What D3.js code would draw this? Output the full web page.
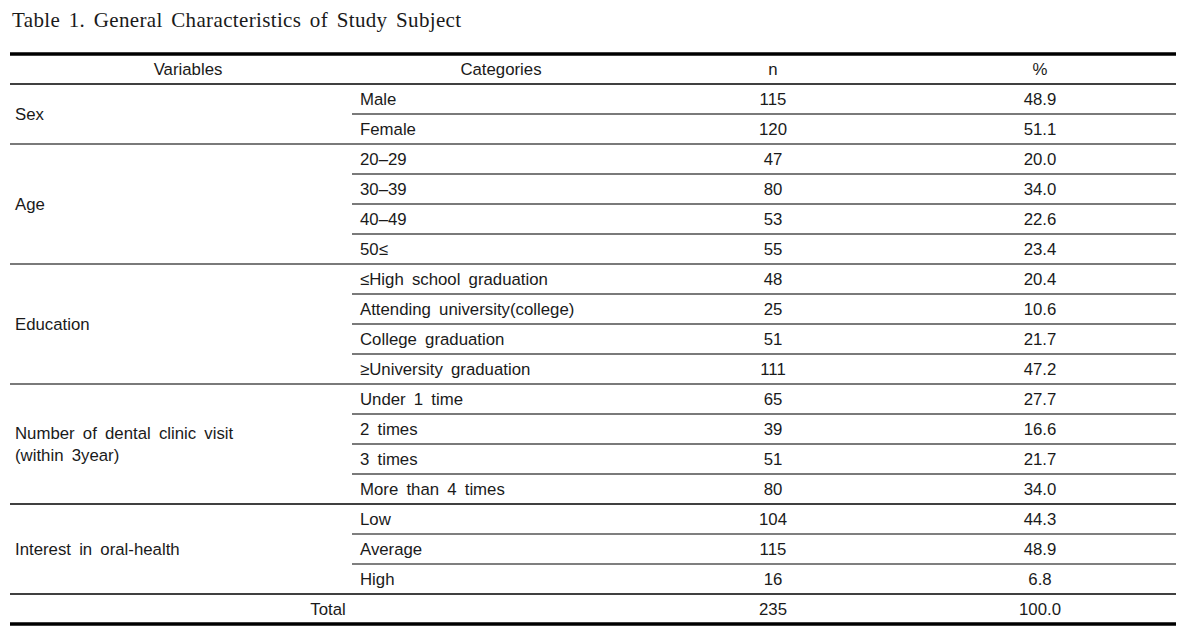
<!DOCTYPE html>
<html lang="en">
<head>
<meta charset="UTF-8">
<title>Table 1</title>
<script src="https://d3js.org/d3.v7.min.js"></script>
<style>
  body { margin: 0; background: #fff; }
  text { font-family: "Liberation Sans", Arial, sans-serif; font-size: 16.8px; fill: #1a1a1a; }
</style>
</head>
<body>
<script>
    var width = 1194, height = 630;

    // table data
    var headers = ["Variables", "Categories", "n", "%"];
    var groups = ["Sex", "Age", "Education", "Number of dental clinic visit|(within 3year)", "Interest in oral-health"];
    var groupSizes = [2, 4, 4, 4, 3];
    var categories = ["Male", "Female", "20\u201329", "30\u201339", "40\u201349", "50\u2264",
        "\u2264High school graduation", "Attending university(college)", "College graduation", "\u2265University graduation",
        "Under 1 time", "2 times", "3 times", "More than 4 times",
        "Low", "Average", "High"];
    var nValues = [115, 120, 47, 80, 53, 55, 48, 25, 51, 111, 65, 39, 51, 80, 104, 115, 16];
    var pctValues = [48.9, 51.1, 20.0, 34.0, 22.6, 23.4, 20.4, 10.6, 21.7, 47.2, 27.7, 16.6, 21.7, 34.0, 44.3, 48.9, 6.8];
    var totalN = 235, totalPct = 100.0;

    var left = 10, right = 1176, catX = 352;

    var svg = d3.select("body").append("svg")
        .attr("width", width)
        .attr("height", height);

    // title
    svg.append("text")
        .attr("x", 12)
        .attr("y", 27)
        .style("font-family", "'Liberation Serif', 'DejaVu Serif', serif")
        .style("font-size", "21px")
        .style("letter-spacing", "0.35px")
        .style("word-spacing", "3px")
        .text("Table 1. General Characteristics of Study Subject");

    // rows: 0 = header, 1..17 = data, 18 = total
    var nRows = categories.length + 2;
    var y = d3.scaleBand().domain(d3.range(nRows)).range([54, 54 + 30 * nRows]);
    var colX = {var: 188, cat: 501, n: 773, pct: 1040};

    var fmt = d3.format(".1f");

    // header
    svg.selectAll("text.head")
        .data(headers)
        .enter().append("text")
        .attr("class", "head")
        .attr("x", function(d, i) { return [colX.var, colX.cat, colX.n, colX.pct][i]; })
        .attr("y", y(0) + y.bandwidth() / 2)
        .attr("dy", "0.35em")
        .attr("text-anchor", "middle")
        .text(function(d) { return d; });

    // group start index
    var starts = [];
    var acc = 0;
    groupSizes.forEach(function(s) { starts.push(acc); acc += s; });

    // group labels
    groups.forEach(function(g, gi) {
        var r0 = starts[gi] + 1, r1 = starts[gi] + groupSizes[gi];
        var cy = (y(r0) + y(r1) + y.bandwidth()) / 2;
        var lines = g.split("|");
        var t = svg.append("text")
            .attr("x", 15)
            .attr("y", cy - (lines.length - 1) * 11)
            .style("word-spacing", "3.5px");
        lines.forEach(function(l, li) {
            t.append("tspan").attr("x", 15).attr("dy", li === 0 ? "0.35em" : "22px").text(l);
        });
    });

    // data rows
    var rows = svg.selectAll("g.row")
        .data(categories)
        .enter().append("g")
        .attr("class", "row")
        .attr("transform", function(d, i) { return "translate(0," + (y(i + 1) + y.bandwidth() / 2) + ")"; });

    rows.append("text")
        .attr("x", 360)
        .attr("dy", "0.35em")
        .style("word-spacing", "3.5px")
        .text(function(d) { return d; });

    rows.append("text")
        .attr("x", colX.n)
        .attr("dy", "0.35em")
        .attr("text-anchor", "middle")
        .text(function(d, i) { return nValues[i]; });

    rows.append("text")
        .attr("x", colX.pct)
        .attr("dy", "0.35em")
        .attr("text-anchor", "middle")
        .text(function(d, i) { return fmt(pctValues[i]); });

    // total row
    var ty = y(nRows - 1) + y.bandwidth() / 2;
    svg.append("text").attr("x", 328).attr("y", ty).attr("dy", "0.35em")
        .attr("text-anchor", "middle").text("Total");
    svg.append("text").attr("x", colX.n).attr("y", ty).attr("dy", "0.35em")
        .attr("text-anchor", "middle").text(totalN);
    svg.append("text").attr("x", colX.pct).attr("y", ty).attr("dy", "0.35em")
        .attr("text-anchor", "middle").text(fmt(totalPct));

    // rules
    function rule(x1, yy, col, w) {
        svg.append("line")
            .attr("x1", x1).attr("x2", right)
            .attr("y1", yy).attr("y2", yy)
            .attr("stroke", col)
            .attr("stroke-width", w);
    }

    var gray = "#7a7a7a";
    rule(left, y(0), "#000", 3.5);
    rule(left, y(1), "#000", 1.3);

    groups.forEach(function(g, gi) {
        var dark = gi >= 4;
        // inner lines
        for (var k = 1; k < groupSizes[gi]; k++) {
            var r = starts[gi] + 1 + k;
            rule(catX, y(r), dark ? "#000" : gray, dark ? 1.2 : 2);
        }
        // group bottom
        var rb = starts[gi] + groupSizes[gi] + 1;
        var bottomDark = gi >= 3;
        rule(left, y(rb), bottomDark ? "#000" : gray, bottomDark ? 1.3 : 2);
    });

    rule(left, y(nRows - 1) + y.bandwidth(), "#000", 3.5);
</script>
</body>
</html>
